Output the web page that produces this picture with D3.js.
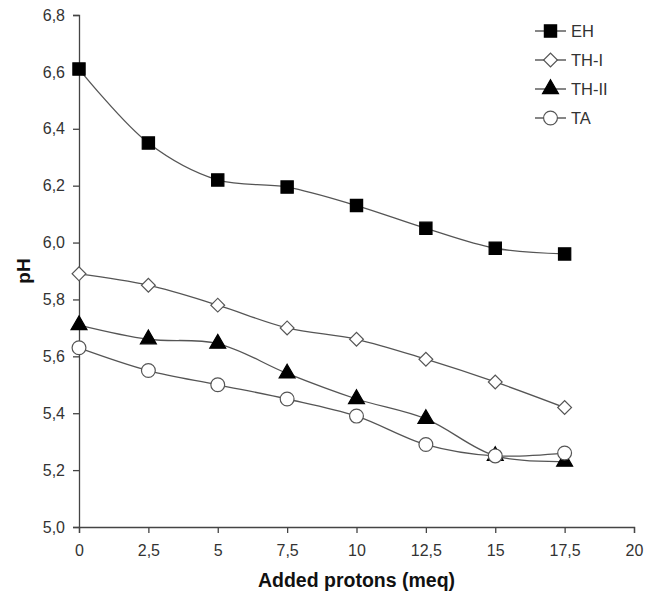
<!DOCTYPE html>
<html>
<head>
<meta charset="utf-8">
<script src="https://cdn.jsdelivr.net/npm/d3@7"></script>
<style>
  body { margin: 0; background: #fff; }
  text { font-family: "Liberation Sans", Arial, sans-serif; }
</style>
</head>
<body>
<script>
// data
var protons = [0, 2.5, 5, 7.5, 10, 12.5, 15, 17.5];
var eh    = [6.61, 6.35, 6.22, 6.195, 6.13, 6.05, 5.98, 5.96];
var th1   = [5.89, 5.85, 5.78, 5.70, 5.66, 5.59, 5.51, 5.42];
var th2   = [5.71, 5.66, 5.645, 5.54, 5.45, 5.38, 5.25, 5.23];
var ta    = [5.63, 5.55, 5.50, 5.45, 5.39, 5.29, 5.25, 5.26];
var seriesNames = ["EH", "TH-I", "TH-II", "TA"];
var xTicks = [0, 2.5, 5, 7.5, 10, 12.5, 15, 17.5, 20];
var yTicks = [5.0, 5.2, 5.4, 5.6, 5.8, 6.0, 6.2, 6.4, 6.6, 6.8];

var width = 655, height = 596;
var margin = {top: 15, right: 21, bottom: 69, left: 79};

var svg = d3.select("body")
  .append("svg")
    .attr("width", width)
    .attr("height", height);

var x = d3.scaleLinear()
  .domain([0, 20])
  .range([margin.left, width - margin.right]);
var y = d3.scaleLinear()
  .domain([5.0, 6.8])
  .range([height - margin.bottom, margin.top]);

var comma = function(d) { return (d % 1 === 0 ? d3.format("d")(d) : String(d)).replace(".", ","); };

// axes
var xAxis = svg.append("g")
  .attr("transform", "translate(0," + y(5.0) + ")")
  .call(d3.axisBottom(x).tickValues(xTicks).tickSize(6).tickPadding(12).tickFormat(comma));
var yAxis = svg.append("g")
  .attr("transform", "translate(" + x(0) + ",0)")
  .call(d3.axisLeft(y).tickValues(yTicks).tickSize(6).tickPadding(8)
    .tickFormat(function(d) { return d3.format(".1f")(d).replace(".", ","); }));

[xAxis, yAxis].forEach(function(a) {
  a.select(".domain").attr("stroke", "#444").attr("stroke-width", 1.3);
  a.selectAll(".tick line").attr("stroke", "#444").attr("stroke-width", 1.3);
  a.selectAll(".tick text").attr("fill", "#333").style("font-size", "16px");
});

svg.append("text")
  .attr("x", (x(0) + x(20)) / 2)
  .attr("y", 587)
  .attr("text-anchor", "middle")
  .style("font-size", "19.5px")
  .style("font-weight", "bold")
  .attr("fill", "#111")
  .text("Added protons (meq)");

svg.append("text")
  .attr("transform", "translate(30," + y(5.9) + ")rotate(-90)")
  .attr("text-anchor", "middle")
  .style("font-size", "19px")
  .style("font-weight", "bold")
  .attr("fill", "#111")
  .text("pH");

var series = [eh, th1, th2, ta].map(function(vals, i) {
  return {
    name: seriesNames[i],
    points: protons.map(function(p, j) { return {x: p, y: vals[j]}; })
  };
});

var line = d3.line()
  .x(function(d) { return x(d.x); })
  .y(function(d) { return y(d.y); })
  .curve(d3.curveCatmullRom.alpha(0.5));

// marker shapes
var symbolFor = {
  "EH":    {type: d3.symbolSquare,   size: 150, fill: "#000", rot: 0},
  "TH-I":  {type: d3.symbolSquare,   size: 95,  fill: "#fff", rot: 45},
  "TH-II": {type: d3.symbolTriangle, size: 110, fill: "#000", rot: 0},
  "TA":    {type: d3.symbolCircle,   size: 150, fill: "#fff", rot: 0}
};
function drawMarker(g, name, cx, cy) {
  var s = symbolFor[name];
  var sym = d3.symbol().type(s.type).size(s.size);
  g.append("path")
    .attr("d", sym())
    .attr("fill", s.fill)
    .attr("stroke", s.fill === "#000" ? "#000" : "#555")
    .attr("stroke-width", 1.2)
    .attr("transform", "translate(" + cx + "," + cy + ") rotate(" + s.rot + ")");
}

series.forEach(function(s) {
  svg.append("path")
    .datum(s.points)
    .attr("fill", "none")
    .attr("stroke", "#555")
    .attr("stroke-width", 1.3)
    .attr("d", line);
});
series.forEach(function(s) {
  var g = svg.append("g");
  s.points.forEach(function(d) { drawMarker(g, s.name, x(d.x), y(d.y)); });
});

// legend
var legend = svg.append("g");
seriesNames.forEach(function(name, i) {
  var ly = 31 + i * 29;
  legend.append("line")
    .attr("x1", 535).attr("x2", 566)
    .attr("y1", ly).attr("y2", ly)
    .attr("stroke", "#444").attr("stroke-width", 1.3);
  drawMarker(legend, name, 550.5, ly);
  legend.append("text")
    .attr("x", 571)
    .attr("y", ly + 6)
    .style("font-size", "16.5px")
    .attr("fill", "#333")
    .text(name);
});
</script>
</body>
</html>
